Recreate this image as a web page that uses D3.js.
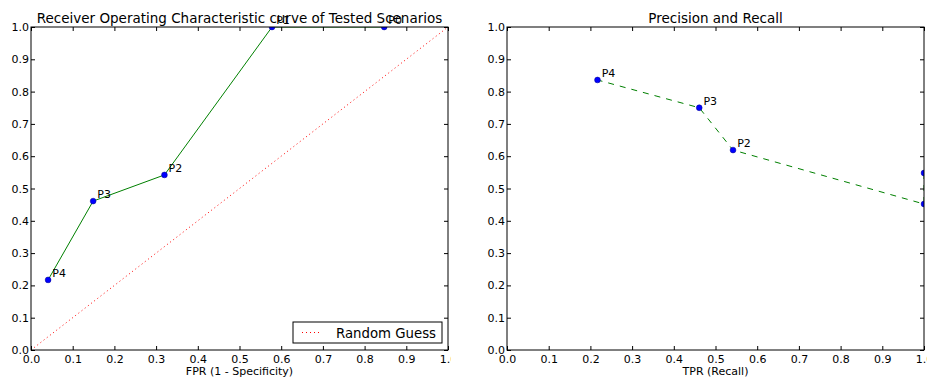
<!DOCTYPE html>
<html><head><meta charset="utf-8">
<script src="https://cdn.jsdelivr.net/npm/d3@7"></script>
<style>
html,body{margin:0;padding:0;background:#fff;}
svg text{font-family:"DejaVu Sans",sans-serif;fill:#000;}
</style></head>
<body>
<svg id="chart" width="927" height="379"></svg>
<script>
// ---- data ----
const pointLabels = ["P0", "P1", "P2", "P3", "P4"];
const fpr = [0.847, 0.578, 0.320, 0.149, 0.041];
const tpr = [1.0, 1.0, 0.542, 0.461, 0.217];
const precision = [0.548, 0.452, 0.619, 0.750, 0.836];
const randomGuess = [[0, 0], [1, 1]];
const tickValues = [0, 0.1, 0.2, 0.3, 0.4, 0.5, 0.6, 0.7, 0.8, 0.9, 1.0];
const tickLabels = ["0.0", "0.1", "0.2", "0.3", "0.4", "0.5", "0.6", "0.7", "0.8", "0.9", "1.0"];
const titles = ["Receiver Operating Characteristic curve of Tested Scenarios", "Precision and Recall"];
const xLabels = ["FPR (1 - Specificity)", "TPR (Recall)"];
const legendLabel = "Random Guess";

const svg = d3.select("#chart");
const defs = svg.append("defs");
const plotTop = 27, plotBottom = 350;

function panel(idx, left, right, clipRight, xs, ys, dashed, withGuess) {
  const x = d3.scaleLinear().domain([0, 1]).range([left, right]);
  const y = d3.scaleLinear().domain([0, 1]).range([plotBottom, plotTop]);

  defs.append("clipPath").attr("id", "pc" + idx)
    .append("rect").attr("x", 0).attr("y", 0).attr("width", clipRight).attr("height", 379);
  defs.append("clipPath").attr("id", "ac" + idx)
    .append("rect").attr("x", left).attr("y", plotTop).attr("width", right - left).attr("height", plotBottom - plotTop);

  const g = svg.append("g").attr("clip-path", `url(#pc${idx})`);
  const plot = g.append("g").attr("clip-path", `url(#ac${idx})`);

  if (withGuess) {
    plot.append("path").datum(randomGuess)
      .attr("d", d3.line().x(d => x(d[0])).y(d => y(d[1])))
      .attr("fill", "none").attr("stroke", "#ff0000").attr("stroke-width", 1)
      .attr("stroke-dasharray", "1,3");
  }

  const pts = pointLabels.map((l, i) => ({ l, xv: xs[i], yv: ys[i] }));
  plot.append("path").datum(pts)
    .attr("d", d3.line().x(d => x(d.xv)).y(d => y(d.yv)))
    .attr("fill", "none").attr("stroke", "#008000").attr("stroke-width", 1)
    .attr("stroke-dasharray", dashed ? "6,6" : null);

  plot.selectAll("circle.pt").data(pts).join("circle")
    .attr("cx", d => x(d.xv)).attr("cy", d => y(d.yv)).attr("r", 2.9)
    .attr("fill", "#0000ff").attr("stroke", "#00008b").attr("stroke-width", 0.5);

  // axes with inward ticks
  const mk = (axis) => axis.tickValues(tickValues).tickSizeInner(-4).tickSizeOuter(0);
  const gb = g.append("g").attr("transform", `translate(0,${plotBottom})`)
    .call(mk(d3.axisBottom(x)).tickFormat((d, i) => tickLabels[i]).tickPadding(5));
  const gl = g.append("g").attr("transform", `translate(${left},0)`)
    .call(mk(d3.axisLeft(y)).tickFormat((d, i) => tickLabels[i]).tickPadding(2));
  const gt = g.append("g").attr("transform", `translate(0,${plotTop})`)
    .call(mk(d3.axisTop(x)).tickFormat(""));
  const gr = g.append("g").attr("transform", `translate(${right},0)`)
    .call(mk(d3.axisRight(y)).tickFormat(""));
  [gb, gl, gt, gr].forEach(a => {
    a.select(".domain").remove();
    a.selectAll(".tick line").attr("stroke", "#000").attr("stroke-width", 1);
    a.selectAll(".tick text").attr("font-size", 11).style("font-family", '"DejaVu Sans",sans-serif').attr("fill", "#000");
  });

  g.append("rect").attr("x", left).attr("y", plotTop).attr("width", right - left).attr("height", plotBottom - plotTop)
    .attr("fill", "none").attr("stroke", "#000").attr("stroke-width", 1);

  // annotations
  g.selectAll("text.ann").data(pts).join("text").attr("class", "ann")
    .attr("x", d => x(d.xv + 0.01)).attr("y", d => y(d.yv + 0.01))
    .attr("font-size", 11).text(d => d.l);

  g.append("text").attr("x", (left + right) / 2).attr("y", 22.5)
    .attr("text-anchor", "middle").attr("font-size", 13.5).text(titles[idx]);
  g.append("text").attr("x", (left + right) / 2).attr("y", 375)
    .attr("text-anchor", "middle").attr("font-size", 11).text(xLabels[idx]);

  if (withGuess) {
    const lg = g.append("g");
    lg.append("rect").attr("x", 293).attr("y", 322).attr("width", 149).attr("height", 21)
      .attr("fill", "#fff").attr("stroke", "#000").attr("stroke-width", 1);
    lg.append("line").attr("x1", 302).attr("x2", 322).attr("y1", 332.5).attr("y2", 332.5)
      .attr("stroke", "#ff0000").attr("stroke-width", 1).attr("stroke-dasharray", "1,3");
    lg.append("text").attr("x", 336).attr("y", 337.5).attr("font-size", 13.3).text(legendLabel);
  }
}

panel(0, 31, 448, 451, fpr, tpr, false, true);
panel(1, 507, 924, 927, tpr, precision, true, false);
</script>
</body></html>
